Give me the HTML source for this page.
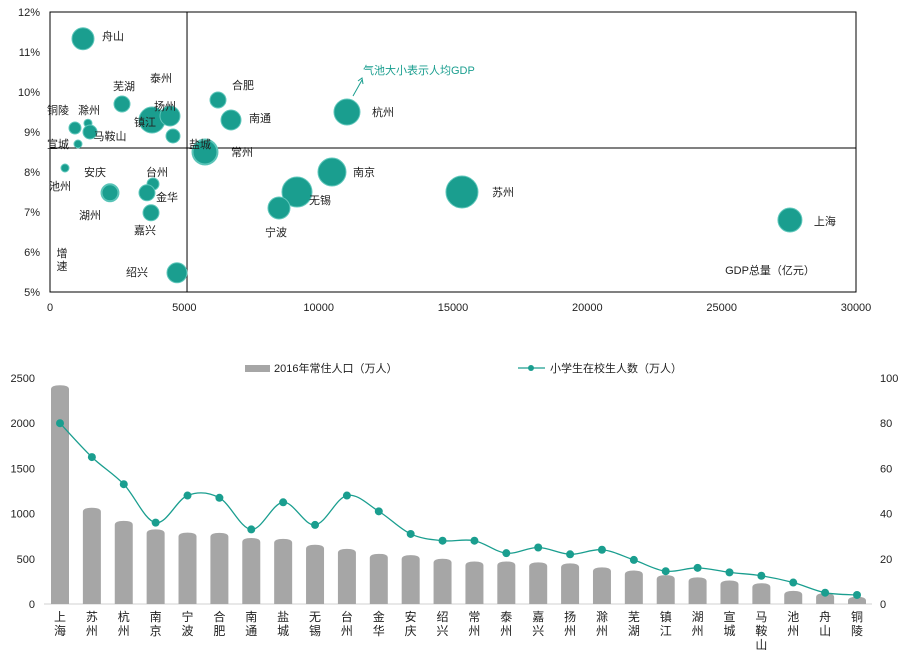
<!DOCTYPE html>
<html><head><meta charset="utf-8"><style>
body{margin:0;background:#fff;}
svg{display:block;font-family:"Liberation Sans","Noto Sans CJK SC",sans-serif;}
</style></head><body>
<svg id="root" width="920" height="650">
<g id="topChart"></g>
<g id="botChart"></g>
</svg>
<script>
const NS='http://www.w3.org/2000/svg';
// ===== Bubble chart data =====
const bubbleCities=['舟山','芜湖','镇江','扬州','泰州','铜陵','滁州','马鞍山','宣城','池州','安庆','湖州','台州','金华','嘉兴','绍兴','合肥','南通','盐城','常州','杭州','南京','无锡','宁波','苏州','上海'];
const bubbleGdp=[1228,2680,3797,4466,4578,930,1414,1489,1042,558,2233,2233,3834,3610,3760,4727,6253,6737,5769,5769,11054,10496,9193,8523,15334,27541];
const bubbleGrowth=[11.33,9.7,9.3,9.4,8.9,9.1,9.22,9.0,8.7,8.1,7.48,7.48,7.7,7.48,6.98,5.48,9.8,9.3,8.5,8.5,9.5,8.0,7.5,7.1,7.5,6.8];
const bubbleSize=[11,8,13,10,7,6,4,7,4,4,9,8,6,8,8,10,8,10,13,12,13,14,15,11,16,12];
const labelOffsetX=[30,2,-7,-5,-12,-17,1,20,-20,-5,-15,-20,4,20,-6,-40,25,29,-5,37,36,32,23,-3,41,35];
const labelOffsetY=[-3,-18,2,-10,-58,-18,-13,4,0,18,-21,22,-12,4,17,-1,-15,-2,-8,0,0,0,8,24,0,1];
const xTicks=[0,5000,10000,15000,20000,25000,30000];
const yTicks=[5,6,7,8,9,10,11,12];
// ===== Bar/line data =====
const cities=['上海','苏州','杭州','南京','宁波','合肥','南通','盐城','无锡','台州','金华','安庆','绍兴','常州','泰州','嘉兴','扬州','滁州','芜湖','镇江','湖州','宣城','马鞍山','池州','舟山','铜陵'];
const population=[2420,1065,920,825,790,787,730,720,655,610,555,540,500,470,470,460,450,405,370,320,295,260,230,145,120,80];
const students=[80,65,53,36,48,47,33,45,35,48,41,31,28,28,22.5,25,22,24,19.5,14.5,16,14,12.5,9.5,5,4];
const leftTicks=[0,500,1000,1500,2000,2500];
const rightTicks=[0,20,40,60,80,100];

function el(tag,attrs,parent,text){const e=document.createElementNS(NS,tag);for(const k in attrs)e.setAttribute(k,attrs[k]);if(text!=null)e.textContent=text;parent.appendChild(e);return e;}
const TEAL='#1a9e8f';
// ---- top chart
const topG=document.getElementById('topChart');
const X0=50,X1=856,Y0=292,Y1=12;
const bx=v=>X0+(v-0)/30000*(X1-X0);
const by=v=>Y0-(v-5)/7*(Y0-Y1);
let frame=el('rect',{x:X0,y:Y1,width:X1-X0,height:Y0-Y1,fill:'none',stroke:'#000','stroke-width':1},topG);


xTicks.forEach(t=>{let e=el('text',{x:bx(t),y:311,'text-anchor':'middle','font-size':11,fill:'#222'},topG,t);

});
yTicks.forEach(t=>{let e=el('text',{x:40,y:by(t)+4,'text-anchor':'end','font-size':11,fill:'#222'},topG,t+'%');

});
let vl=el('line',{x1:bx(5100),x2:bx(5100),y1:Y1,y2:Y0,stroke:'#000'},topG);


let hl=el('line',{x1:X0,x2:X1,y1:by(8.6),y2:by(8.6),stroke:'#000'},topG);


bubbleCities.forEach((c,i)=>{
 const cx=bx(bubbleGdp[i]),cy=by(bubbleGrowth[i]);
 let b=el('circle',{cx:cx,cy:cy,r:bubbleSize[i],fill:'#1a9e8f',stroke:'#5fc7bb','stroke-width':1},topG);
 
 
});
bubbleCities.forEach((c,i)=>{
 const cx=bx(bubbleGdp[i]),cy=by(bubbleGrowth[i]);
 let t=el('text',{x:cx+labelOffsetX[i],y:cy+labelOffsetY[i]+4,'text-anchor':'middle','font-size':11,fill:'#222'},topG,c);
 
 
});
let ann=el('text',{x:363,y:74,'font-size':11,fill:TEAL},topG,'气池大小表示人均GDP');


let ar=el('path',{d:'M353 96 L362 80 M358 81 L362 78 L363 84',stroke:TEAL,fill:'none','stroke-width':1},topG);


let yt1=el('text',{x:62,y:257,'text-anchor':'middle','font-size':11,fill:'#222'},topG,'增');


let yt2=el('text',{x:62,y:270,'text-anchor':'middle','font-size':11,fill:'#222'},topG,'速');


let xt=el('text',{x:770,y:274,'text-anchor':'middle','font-size':11,fill:'#222'},topG,'GDP总量（亿元）');



// ---- bottom chart
const botG=document.getElementById('botChart');
const BY0=604,BY1=378,BX0=60,STEP=31.88;
const lx=i=>BX0+i*STEP;
const ly=v=>BY0-v/2500*(BY0-BY1);
const ry=v=>BY0-v/100*(BY0-BY1);
let base=el('line',{x1:44,x2:872,y1:BY0,y2:BY0,stroke:'#d0d0d0'},botG);


leftTicks.forEach(t=>{let e=el('text',{x:35,y:ly(t)+4,'text-anchor':'end','font-size':11,fill:'#222'},botG,t);

});
rightTicks.forEach(t=>{let e=el('text',{x:880,y:ry(t)+4,'font-size':11,fill:'#222'},botG,t);

});
const BW=18;
population.forEach((v,i)=>{
 const x=lx(i)-BW/2,yt=ly(v),rr=4;
 let p=el('path',{d:`M${x} ${BY0} L${x} ${yt+rr} Q${x} ${yt} ${x+BW/2} ${yt} Q${x+BW} ${yt} ${x+BW} ${yt+rr} L${x+BW} ${BY0} Z`,fill:'#a6a6a6'},botG);
 
 
});
cities.forEach((c,i)=>{[...c].forEach((ch,j)=>{let t=el('text',{x:lx(i),y:621+j*14,'text-anchor':'middle','font-size':12,fill:'#222'},botG,ch);

});});
const pts=students.map((v,i)=>[lx(i),ry(v)]);
let d='M'+pts[0][0]+' '+pts[0][1];
for(let i=0;i<pts.length-1;i++){const p0=pts[Math.max(0,i-1)],p1=pts[i],p2=pts[i+1],p3=pts[Math.min(pts.length-1,i+2)];
 const k=0.17;d+=` C${p1[0]+(p2[0]-p0[0])*k} ${p1[1]+(p2[1]-p0[1])*k} ${p2[0]-(p3[0]-p1[0])*k} ${p2[1]-(p3[1]-p1[1])*k} ${p2[0]} ${p2[1]}`;}
let ln=el('path',{d:d,fill:'none',stroke:TEAL,'stroke-width':1.3},botG);


pts.forEach(p=>{let c=el('circle',{cx:p[0],cy:p[1],r:4,fill:TEAL},botG);

});
let lg1=el('rect',{x:245,y:365,width:25,height:7,fill:'#a6a6a6'},botG);


let lt1=el('text',{x:274,y:372,'font-size':11,fill:'#222'},botG,'2016年常住人口（万人）');


let lg2=el('line',{x1:518,x2:545,y1:368,y2:368,stroke:TEAL,'stroke-width':1.3},botG);


let lg3=el('circle',{cx:531,cy:368,r:3,fill:TEAL},botG);


let lt2=el('text',{x:550,y:372,'font-size':11,fill:'#222'},botG,'小学生在校生人数（万人）');


</script>
</body></html>
